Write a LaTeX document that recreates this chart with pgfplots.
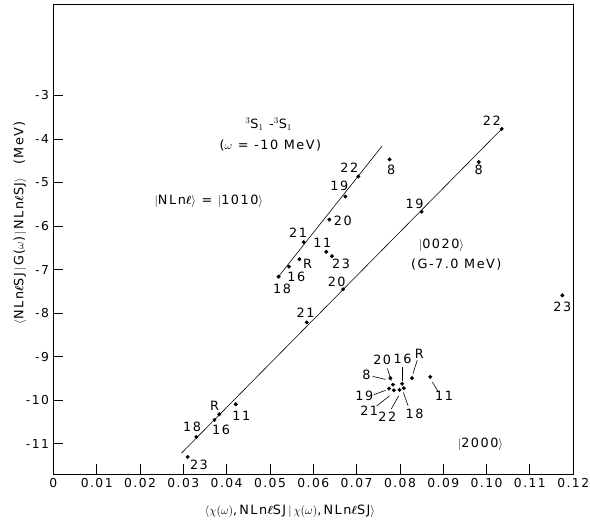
\documentclass[border=0pt]{standalone}
\usepackage{amsmath}
\usepackage{fontspec}
\setmainfont{DejaVu Sans}[LetterSpace=12]
\usepackage{pgfplots}
\pgfplotsset{compat=1.18}
\newcommand{\ellb}{$\boldsymbol{\ell}$}
\begin{document}
\fontsize{13}{15}\selectfont
\begin{tikzpicture}[font=\fontsize{13}{15}\selectfont]
\begin{axis}[
  at={(0,0)}, anchor=south west,
  scale only axis, width=526bp, height=476bp,
  xmin=0, xmax=0.12, ymin=-11.7, ymax=-0.9,
  axis line style={line width=0.9pt},
  tick pos=left, tick align=inside,
  major tick length=10bp,
  every tick/.style={black, line width=0.8pt},
  xtick={0,0.01,0.02,0.03,0.04,0.05,0.06,0.07,0.08,0.09,0.10,0.11,0.12},
  xticklabels={0,0.01,0.02,0.03,0.04,0.05,0.06,0.07,0.08,0.09,0.10,0.11,0.12},
  ytick={-11,-10,-9,-8,-7,-6,-5,-4,-3},
  yticklabels={-11,-10,-9,-8,-7,-6,-5,-4,-3},
  /pgf/number format/assume math mode=true,
  tick label style={font=\fontsize{12.5}{14}\selectfont},
  label style={font=\fontsize{12.5}{14}\selectfont},
  xlabel={$\langle\chi(\omega)$,\,NLn\ellb SJ$\,|\,\chi(\omega)$,\,NLn\ellb SJ$\rangle$},
  ylabel={$\langle$NLn\ellb SJ$\,|\,$G($\omega$)$\,|\,$NLn\ellb SJ$\rangle$\hspace{1em}(MeV)},
  every axis x label/.style={at={(axis description cs:0.455,-0.078)}, anchor=center},
  every axis y label/.style={at={(axis description cs:-0.064,0.535)}, rotate=90, anchor=center},
  clip=false,
]
% |1010> series
\addplot[only marks, mark=*, mark size=1.8pt, black] coordinates {
(0.0520,-7.16) (0.0544,-6.93) (0.0568,-6.76) (0.0578,-6.37) (0.0630,-6.59)
(0.0643,-6.69) (0.0637,-5.85) (0.0674,-5.32) (0.0704,-4.86) (0.0776,-4.47)};
\addplot[black, line width=0.6pt] coordinates {(0.0518,-7.18) (0.0759,-4.16)};
% |0020> series
\addplot[only marks, mark=*, mark size=1.8pt, black] coordinates {
(0.0310,-11.30) (0.0330,-10.84) (0.0372,-10.45) (0.0383,-10.32) (0.0421,-10.09)
(0.0585,-8.21) (0.0669,-7.45) (0.0850,-5.67) (0.0982,-4.53) (0.1035,-3.77) (0.1175,-7.59)};
\addplot[black, line width=0.6pt] coordinates {(0.0296,-11.21) (0.1035,-3.77)};
% |2000> series
\addplot[only marks, mark=*, mark size=1.8pt, black] coordinates {
(0.0778,-9.49) (0.0784,-9.64) (0.0775,-9.73) (0.0786,-9.77) (0.0799,-9.76)
(0.0805,-9.62) (0.0809,-9.72) (0.0828,-9.49) (0.0870,-9.46)};
% labels |1010>
\node at (axis cs:0.0528,-7.44) {18};
\node at (axis cs:0.0561,-7.16) {16};
\node at (axis cs:0.0587,-6.87) {R};
\node at (axis cs:0.0565,-6.16) {21};
\node at (axis cs:0.0621,-6.39) {11};
\node at (axis cs:0.0664,-6.87) {23};
\node at (axis cs:0.0668,-5.89) {20};
\node at (axis cs:0.0660,-5.07) {19};
\node at (axis cs:0.0683,-4.67) {22};
\node at (axis cs:0.0780,-4.70) {8};
% labels |0020>
\node at (axis cs:0.0336,-11.47) {23};
\node at (axis cs:0.0320,-10.61) {18};
\node at (axis cs:0.0387,-10.67) {16};
\node at (axis cs:0.0372,-10.13) {R};
\node at (axis cs:0.0434,-10.36) {11};
\node at (axis cs:0.0582,-8.00) {21};
\node at (axis cs:0.0654,-7.28) {20};
\node at (axis cs:0.0834,-5.50) {19};
\node at (axis cs:0.0982,-4.70) {8};
\node at (axis cs:0.1012,-3.58) {22};
\node at (axis cs:0.1175,-7.86) {23};
% labels |2000>
\node at (axis cs:0.0723,-9.41) {8};
\node at (axis cs:0.0759,-9.08) {20};
\node at (axis cs:0.0806,-9.04) {16};
\node at (axis cs:0.0845,-8.93) {R};
\node at (axis cs:0.0718,-9.89) {19};
\node at (axis cs:0.0729,-10.24) {21};
\node at (axis cs:0.0771,-10.38) {22};
\node at (axis cs:0.0834,-10.30) {18};
\node at (axis cs:0.0902,-9.89) {11};
\draw[line width=0.6pt] (axis cs:0.0737,-9.45) -- (axis cs:0.0767,-9.52);
\draw[line width=0.6pt] (axis cs:0.0771,-9.27) -- (axis cs:0.0780,-9.55);
\draw[line width=0.6pt] (axis cs:0.0806,-9.24) -- (axis cs:0.0806,-9.56);
\draw[line width=0.6pt] (axis cs:0.0840,-9.08) -- (axis cs:0.0830,-9.39);
\draw[line width=0.6pt] (axis cs:0.0740,-9.87) -- (axis cs:0.0767,-9.77);
\draw[line width=0.6pt] (axis cs:0.0746,-10.13) -- (axis cs:0.0776,-9.90);
\draw[line width=0.6pt] (axis cs:0.0780,-10.20) -- (axis cs:0.0797,-9.90);
\draw[line width=0.6pt] (axis cs:0.0819,-10.13) -- (axis cs:0.0808,-9.82);
\draw[line width=0.6pt] (axis cs:0.0887,-9.78) -- (axis cs:0.0875,-9.58);
% annotations
\node at (axis cs:0.0497,-3.66) {$^3$S$_1$ -$^3$S$_1$};
\node at (axis cs:0.0501,-4.16) {($\omega$ = -10 MeV)};
\node at (axis cs:0.0359,-5.44) {$|$NLn\ellb$\rangle$ = $|$1010$\rangle$};
\node at (axis cs:0.0896,-6.45) {$|$0020$\rangle$};
\node at (axis cs:0.0930,-6.89) {(G-7.0 MeV)};
\node at (axis cs:0.0986,-11.00) {$|$2000$\rangle$};
\end{axis}
\pgfresetboundingbox
\useasboundingbox (-54bp,-54bp) rectangle (543bp,480bp);
\end{tikzpicture}
\end{document}
